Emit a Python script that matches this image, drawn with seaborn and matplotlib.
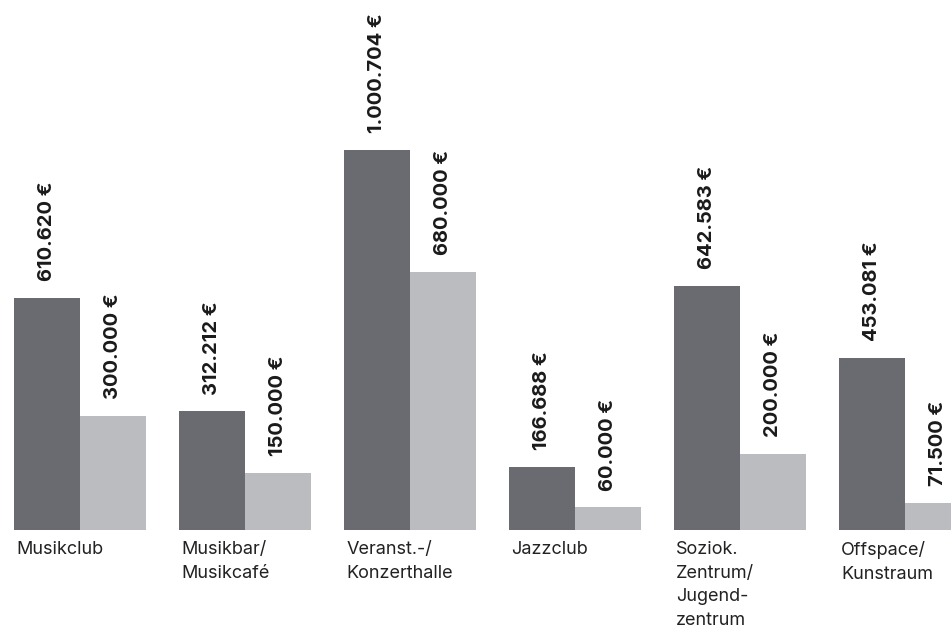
import matplotlib
matplotlib.use("Agg")
import matplotlib.pyplot as plt
import seaborn as sns
import pandas as pd

# Categories and the two amounts per venue type
categories = [
    "Musikclub",
    "Musikbar/\nMusikcafé",
    "Veranst.-/\nKonzerthalle",
    "Jazzclub",
    "Soziok.\nZentrum/\nJugend-\nzentrum",
    "Offspace/\nKunstraum",
]
series_names = ["A", "B"]
values_a = [610620, 312212, 1000704, 166688, 642583, 453081]
values_b = [300000, 150000, 680000, 60000, 200000, 71500]

colors = {"A": "#6a6b70", "B": "#bbbcc0"}

df = pd.DataFrame({
    "cat": categories * 2,
    "series": [series_names[0]] * len(categories) + [series_names[1]] * len(categories),
    "value": values_a + values_b,
})

sns.set_theme(style="white")
plt.rcParams["font.family"] = ["Inter", "DejaVu Sans"]

fig = plt.figure(figsize=(9.51, 6.33), dpi=100)
ax = fig.add_axes([0, 103 / 633, 1, 530 / 633])

sns.barplot(data=df, x="cat", y="value", hue="series", order=categories,
            hue_order=series_names, palette=colors, width=0.8,
            saturation=1, linewidth=0, legend=False, ax=ax)

def fmt(v):
    return f"{v:,}".replace(",", ".") + " €"

for cont, vals in zip(ax.containers, [values_a, values_b]):
    ax.bar_label(cont, labels=[fmt(v) for v in vals], rotation=90,
                 padding=12, fontsize=14.5, fontweight="bold", color="#1a1a1a")

ax.set_xlim(-0.485, 5.279)
ax.set_ylim(0, 1000704 * 530 / 380)
ax.axis("off")

# Category names, left-aligned under each group
for i, name in enumerate(categories):
    ax.annotate(name, xy=(i - 0.4, 0), xytext=(1.5, -8),
                textcoords="offset points", ha="left", va="top",
                fontsize=13, color="#222222", linespacing=1.5,
                annotation_clip=False)

fig.savefig("out.png", dpi=100)
